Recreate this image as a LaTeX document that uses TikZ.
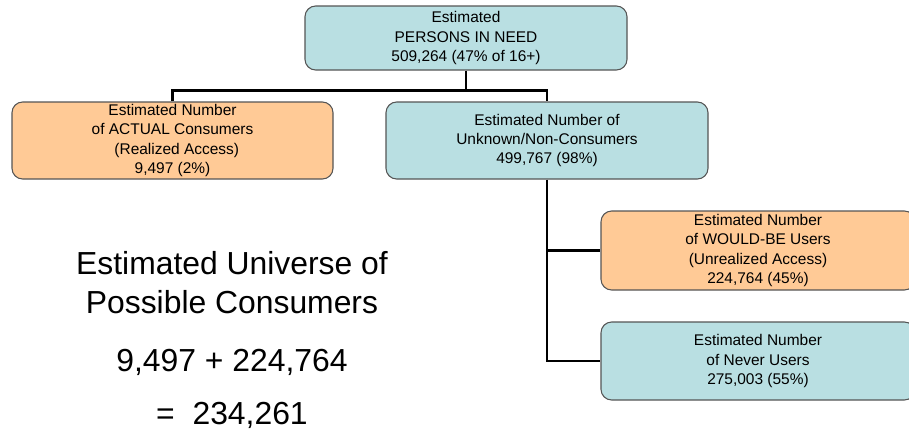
\documentclass[tikz,border=0pt]{standalone}
\usepackage{fontspec}
\setmainfont{Liberation Sans}
\usepackage{xcolor}
\definecolor{mybluegreen}{HTML}{B9DFE2}
\definecolor{myorange}{HTML}{FFCA96}
\definecolor{myframe}{HTML}{555555}
\usetikzlibrary{positioning,calc}
\tikzset{
    box/.style={draw=myframe, line width=0.8pt, rounded corners=8pt, align=center, inner sep=0pt,
        font=\fontsize{11.6}{14.3}\selectfont},
    tealbox/.style={box, fill=mybluegreen},
    peachbox/.style={box, fill=myorange},
    branch/.style={line width=2.2pt},
    bigtext/.style={align=center, font=\fontsize{23.9}{29.3}\selectfont}
}

\begin{document}
\begin{tikzpicture}[x=0.75pt,y=-0.75pt]
    \useasboundingbox (0,0) rectangle (909,432);
    \clip (0,0) rectangle (909,432);

    % boxes
    \node[tealbox, minimum width=241.5pt, minimum height=48pt] (need) at (466,38)
        {Estimated\\PERSONS IN NEED\\509,264 (47\% of 16+)};
    \node[peachbox, minimum width=240.75pt, minimum height=57.75pt] (actual) at (172.5,140.5)
        {Estimated Number\\of ACTUAL Consumers\\\ \ (Realized Access)\\9,497 (2\%)\hspace{1.3em}};
    \node[tealbox, minimum width=241.5pt, minimum height=57.75pt] (unknown) at (547,140.5)
        {Estimated Number of\\Unknown/Non-Consumers\\499,767 (98\%)};
    \node[peachbox, minimum width=235.5pt, minimum height=59.25pt] (would) at (758,250.5)
        {Estimated Number\\of WOULD-BE Users\\(Unrealized Access)\\224,764 (45\%)\hspace{1.5em}};
    \node[tealbox, minimum width=235.5pt, minimum height=58.5pt] (never) at (758,361)
        {Estimated Number\\of Never Users\\275,003 (55\%)};

    % connectors
    \coordinate (bar) at ($(need.south)+(0,20)$);
    \draw[branch] (need.south) -- (bar);
    \draw[branch] (actual.north) |- (bar) -| (unknown.north);
    \coordinate (fork) at (unknown.south |- would.west);
    \draw[branch] (unknown.south) |- (never.west);
    \draw[branch] (fork) -- (would.west);

    % universe of possible consumers
    \node[bigtext] (universe) at (232,282.5) {Estimated Universe of\\Possible Consumers};
    \node[bigtext] (sum) at (232,362) {9,497 + 224,764};
    \node[bigtext] (total) at (232,415) {=\ \ 234,261};
\end{tikzpicture}
\end{document}
